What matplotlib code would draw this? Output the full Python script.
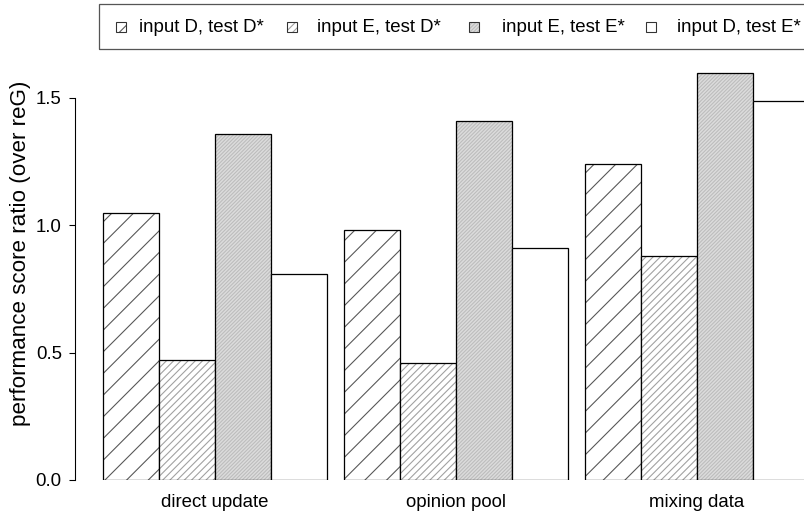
import matplotlib
matplotlib.use("Agg")
import matplotlib.pyplot as plt
from matplotlib.patches import Rectangle
import numpy as np

# 값
groups = ["direct update", "opinion pool", "mixing data"]
series = ["input D, test D*", "input E, test D*", "input E, test E*", "input D, test E*"]
dd = [1.05, 0.98, 1.24]
ed = [0.47, 0.46, 0.88]
ee = [1.36, 1.41, 1.60]
de = [0.81, 0.91, 1.49]
values = [dd, ed, ee, de]

# 막대 스타일 (R barplot 흉내)
facecolors = ["white", "white", "#dcdcdc", "white"]
hatches = ["//", "//////", "////////////", None]
hatchcolors = ["#555555", "#a0a0a0", "#bcbcbc", "white"]

DPI = 130
W, H = 804, 516
plt.rcParams["font.family"] = ["Liberation Sans", "DejaVu Sans"]
plt.rcParams["hatch.linewidth"] = 0.6
FS = 10.3

fig = plt.figure(figsize=(W / DPI, H / DPI), dpi=DPI)

# 축 위치 (픽셀 -> figure 비율)
px_per_unit = (480 - 98) / 1.5
ymax = 1.7
ax_left, ax_right = 75, 804
ax_bottom = 480
ax_top = ax_bottom - ymax * px_per_unit
ax = fig.add_axes([ax_left / W, (H - ax_bottom) / H, (ax_right - ax_left) / W, (ax_bottom - ax_top) / H])

bar_w = 1.0
gap = 0.3
n = len(series)
x0 = np.arange(len(groups)) * (n * bar_w + gap)
for i, vals in enumerate(values):
    xs = x0 + i * bar_w
    # 해치 레이어 + 검은 테두리 레이어
    ax.bar(xs, vals, width=bar_w, align="edge", color=facecolors[i], edgecolor=hatchcolors[i],
           hatch=hatches[i], linewidth=0)
    ax.bar(xs, vals, width=bar_w, align="edge", fill=False, edgecolor="black", linewidth=0.7)

bar_px = 56
ax.set_xlim(-(103 - ax_left) / bar_px, (ax_right - 103) / bar_px)
ax.set_ylim(0, ymax)

for s in ["top", "right", "bottom"]:
    ax.spines[s].set_visible(False)
ax.spines["left"].set_bounds(0, 1.5)
ax.spines["left"].set_linewidth(0.6)
ax.set_yticks([0, 0.5, 1.0, 1.5])
ax.set_yticklabels(["0.0", "0.5", "1.0", "1.5"])
ax.tick_params(axis="y", length=3.3, width=0.6, pad=4, labelsize=FS)
ax.set_xticks(x0 + n * bar_w / 2)
ax.set_xticklabels(groups)
ax.tick_params(axis="x", length=0, pad=8, labelsize=FS)
ax.set_ylabel("performance score ratio (over reG)", fontsize=FS * 1.2)
ax.yaxis.set_label_coords(-(ax_left - 31) / (ax_right - ax_left), (ax_bottom - 253) / (ax_bottom - ax_top))

# 범례 (상단 가로 박스, 오른쪽은 잘림)
fig.patches.append(Rectangle((99 / W, 1 - 49 / H), (812 - 99) / W, 45 / H, transform=fig.transFigure,
                             fill=False, edgecolor="#555555", linewidth=0.7))
sym_x = [116, 287, 469, 646]
txt_x = [139, 317, 502, 677]
sym_hatch = ["//", "//////", "////////////", None]
for i, label in enumerate(series):
    fig.patches.append(Rectangle((sym_x[i] / W, 1 - 32 / H), 10 / W, 10 / H, transform=fig.transFigure,
                                 facecolor=facecolors[i], edgecolor=hatchcolors[i], hatch=sym_hatch[i], linewidth=0))
    fig.patches.append(Rectangle((sym_x[i] / W, 1 - 32 / H), 10 / W, 10 / H, transform=fig.transFigure,
                                 fill=False, edgecolor="#333333", linewidth=0.6))
    fig.text(txt_x[i] / W, 1 - 27 / H, label, fontsize=FS, ha="left", va="center")

fig.savefig("out.png", dpi=DPI)
